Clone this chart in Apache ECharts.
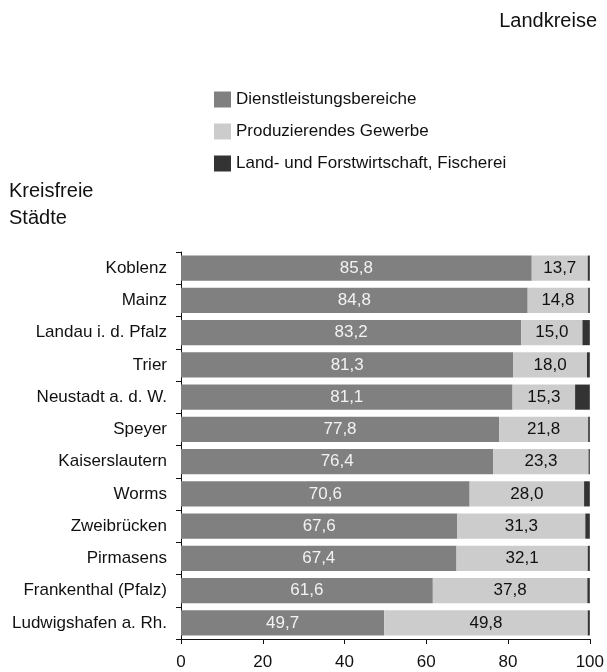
<!DOCTYPE html>
<html><head><meta charset="utf-8">
<script src="https://cdn.jsdelivr.net/npm/echarts@6/dist/echarts.min.js"></script>
<style>html,body{margin:0;padding:0;background:#fff}#c{width:607px;height:672px}</style>
</head><body><div id="c"></div>
<script>
const categories = ["Koblenz","Mainz","Landau i. d. Pfalz","Trier","Neustadt a. d. W.","Speyer","Kaiserslautern","Worms","Zweibrücken","Pirmasens","Frankenthal (Pfalz)","Ludwigshafen a. Rh."];
const dienstleistung = [85.8,84.8,83.2,81.3,81.1,77.8,76.4,70.6,67.6,67.4,61.6,49.7];
const produzierend = [13.7,14.8,15.0,18.0,15.3,21.8,23.3,28.0,31.3,32.1,37.8,49.8];
const landwirtschaft = [0.5,0.4,1.8,0.7,3.6,0.4,0.3,1.4,1.1,0.5,0.6,0.5];
const xTicks = [0,20,40,60,80,100];
const seriesNames = ["Dienstleistungsbereiche","Produzierendes Gewerbe","Land- und Forstwirtschaft, Fischerei"];

const font = "'Liberation Sans', Arial, sans-serif";
const ink = '#111';
const fmt = p => p.value.toFixed(1).replace('.', ',');
const chart = echarts.init(document.getElementById('c'), null, {renderer:'canvas'});
chart.setOption({
  animation:false,
  textStyle:{fontFamily:font},
  grid:{left:181,right:17,top:252,bottom:33},
  legend:{orient:'vertical',left:209,top:86,itemWidth:17,itemHeight:16,itemGap:15,
    textStyle:{fontSize:17,color:ink,fontFamily:font},icon:'rect',selectedMode:false,
    data:seriesNames},
  graphic:[
    {type:'text',right:10,top:11,style:{text:'Landkreise',fontSize:20,fill:ink,fontFamily:font}},
    {type:'text',left:9,top:178,style:{text:'Kreisfreie\nStädte',fontSize:20,lineHeight:27,fill:ink,fontFamily:font}}
  ],
  xAxis:{type:'value',min:0,max:100,interval:20,
    axisLine:{show:true,lineStyle:{color:ink,width:1}},
    axisTick:{show:true,length:5,lineStyle:{color:ink}},
    splitLine:{show:false},
    axisLabel:{fontSize:17,color:ink,margin:15,fontFamily:font,
      formatter:v=>xTicks.includes(v)?String(v):''}},
  yAxis:{type:'category',inverse:true,data:categories,
    axisLine:{show:true,lineStyle:{color:ink,width:1}},
    axisTick:{show:true,length:5,lineStyle:{color:ink}},
    axisLabel:{fontSize:17,color:ink,margin:14,fontFamily:font}},
  series:[
    {name:seriesNames[0],type:'bar',stack:'s',data:dienstleistung,barCategoryGap:'22%',
      itemStyle:{color:'#808080'},
      label:{show:true,position:'inside',color:'#f2f2f2',fontSize:17,fontFamily:font,formatter:fmt}},
    {name:seriesNames[1],type:'bar',stack:'s',data:produzierend,
      itemStyle:{color:'#cccccc'},
      label:{show:true,position:'inside',color:ink,fontSize:17,fontFamily:font,formatter:fmt}},
    {name:seriesNames[2],type:'bar',stack:'s',data:landwirtschaft,
      itemStyle:{color:'#333333'}}
  ]
});
</script></body></html>
